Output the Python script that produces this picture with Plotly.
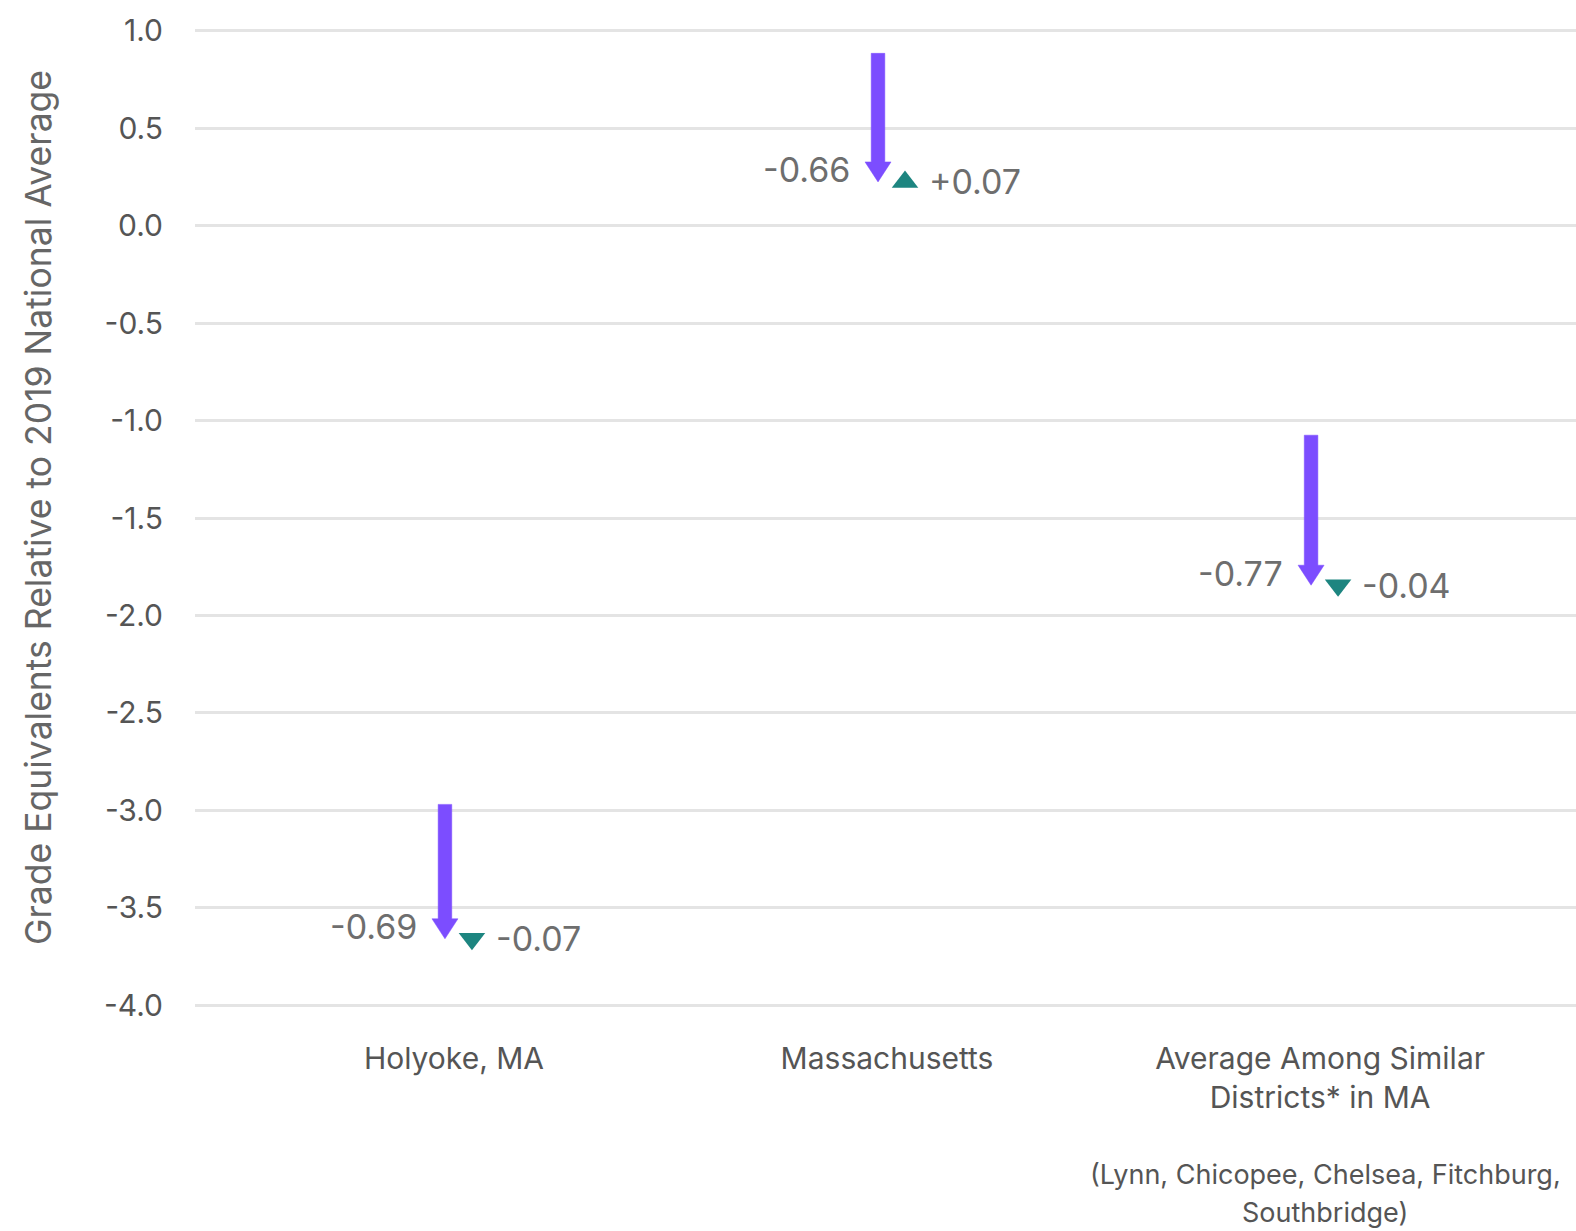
import plotly.graph_objects as go

# ---------------- data ----------------
categories = ["Holyoke, MA", "Massachusetts", "Average Among Similar<br>Districts* in MA"]
start_values = [-2.97, 0.885, -1.075]     # level before first change
first_change = [-0.69, -0.66, -0.77]      # purple arrow
second_change = [-0.07, 0.07, -0.04]      # teal triangle
first_labels = ["-0.69", "-0.66", "-0.77"]
second_labels = ["-0.07", "+0.07", "-0.04"]
y_ticks = [1.0, 0.5, 0.0, -0.5, -1.0, -1.5, -2.0, -2.5, -3.0, -3.5, -4.0]
y_tick_text = ["1.0", "0.5", "0.0", "-0.5", "-1.0", "-1.5", "-2.0", "-2.5", "-3.0", "-3.5", "-4.0"]
y_title = "Grade Equivalents Relative to 2019 National Average"
footnote_lines = ["(Lynn, Chicopee, Chelsea, Fitchburg,", "Southbridge)"]

# ---------------- layout constants ----------------
W, H = 1576, 1231
ML, MR, MT, MB = 195, 0, 29, 224
X_RANGE = [-0.598, 2.591]
Y_RANGE = [-4.01, 1.01]
px_x = (W - ML - MR) / (X_RANGE[1] - X_RANGE[0])
px_y = (H - MT - MB) / (Y_RANGE[1] - Y_RANGE[0])

ARROW_OFF = -9 / px_x
TRI_OFF = 18 / px_x
SHAFT_HALF = 6.8 / px_x
HEAD_HALF = 13 / px_x
HEAD_LEN = 20 / px_y

PURPLE = "#7c4dff"
TEAL = "#1d8580"
FONT = "Inter"
NUM_COLOR = "#6e6e6e"
TXT_COLOR = "#555555"

fig = go.Figure()

end_values = [s + c for s, c in zip(start_values, first_change)]

for i, (s, e) in enumerate(zip(start_values, end_values)):
    xc = i + ARROW_OFF
    hb = e + HEAD_LEN if e < s else e - HEAD_LEN
    xs = [xc - SHAFT_HALF, xc + SHAFT_HALF, xc + SHAFT_HALF, xc + HEAD_HALF, xc,
          xc - HEAD_HALF, xc - SHAFT_HALF, xc - SHAFT_HALF]
    ys = [s, s, hb, hb, e, hb, hb, s]
    fig.add_trace(go.Scatter(x=xs, y=ys, mode="lines", fill="toself",
                             fillcolor=PURPLE, line=dict(color=PURPLE, width=0.5),
                             hoverinfo="skip", showlegend=False))

tri_symbols = ["triangle-down" if c < 0 else "triangle-up" for c in second_change]
fig.add_trace(go.Scatter(
    x=[i + TRI_OFF for i in range(len(categories))], y=end_values,
    mode="markers", marker=dict(symbol=tri_symbols, size=23, color=TEAL, line=dict(width=0)),
    hoverinfo="skip", showlegend=False))

for i, e in enumerate(end_values):
    fig.add_annotation(x=i + ARROW_OFF, y=e, xref="x", yref="y", text=first_labels[i],
                       showarrow=False, xanchor="right", yanchor="middle",
                       xshift=-26, yshift=12,
                       font=dict(family=FONT, size=34, color=NUM_COLOR))
    fig.add_annotation(x=i + TRI_OFF, y=e, xref="x", yref="y", text=second_labels[i],
                       showarrow=False, xanchor="left", yanchor="middle",
                       xshift=22, yshift=0,
                       font=dict(family=FONT, size=34, color=NUM_COLOR))

for k, line in enumerate(footnote_lines):
    fig.add_annotation(x=2, y=0, xref="x", yref="paper", text=line, showarrow=False,
                       xanchor="center", yanchor="middle", yshift=-167 - 38 * k, xshift=5,
                       font=dict(family=FONT, size=27, color=TXT_COLOR))

# y-axis title
fig.add_annotation(x=0, y=0.5, xref="paper", yref="paper", text=y_title, showarrow=False,
                   textangle=-90, xanchor="center", yanchor="middle",
                   xshift=-157, yshift=10,
                   font=dict(family=FONT, size=35.5, color="#666666"))

fig.update_layout(
    width=W, height=H, autosize=False,
    margin=dict(l=ML, r=MR, t=MT, b=MB),
    paper_bgcolor="white", plot_bgcolor="white",
    font=dict(family=FONT, color=TXT_COLOR),
    xaxis=dict(range=X_RANGE, tickvals=list(range(len(categories))), ticktext=categories,
               showgrid=False, zeroline=False, showline=False, ticks="",
               ticklabelstandoff=31,
               tickfont=dict(family=FONT, size=30, color=TXT_COLOR)),
    yaxis=dict(range=Y_RANGE, tickvals=y_ticks, ticktext=y_tick_text,
               showgrid=True, gridcolor="#e4e4e4", gridwidth=2.5,
               zeroline=False, showline=False, ticks="",
               ticklabelstandoff=31,
               tickfont=dict(family=FONT, size=30, color=TXT_COLOR)),
)

post = (
    "document.documentElement.style.overflow='hidden';"
    "document.body.style.margin='0';document.body.style.overflow='hidden';"
)
fig.write_html("out.html",
               config={"displayModeBar": False, "responsive": False},
               post_script=post)
